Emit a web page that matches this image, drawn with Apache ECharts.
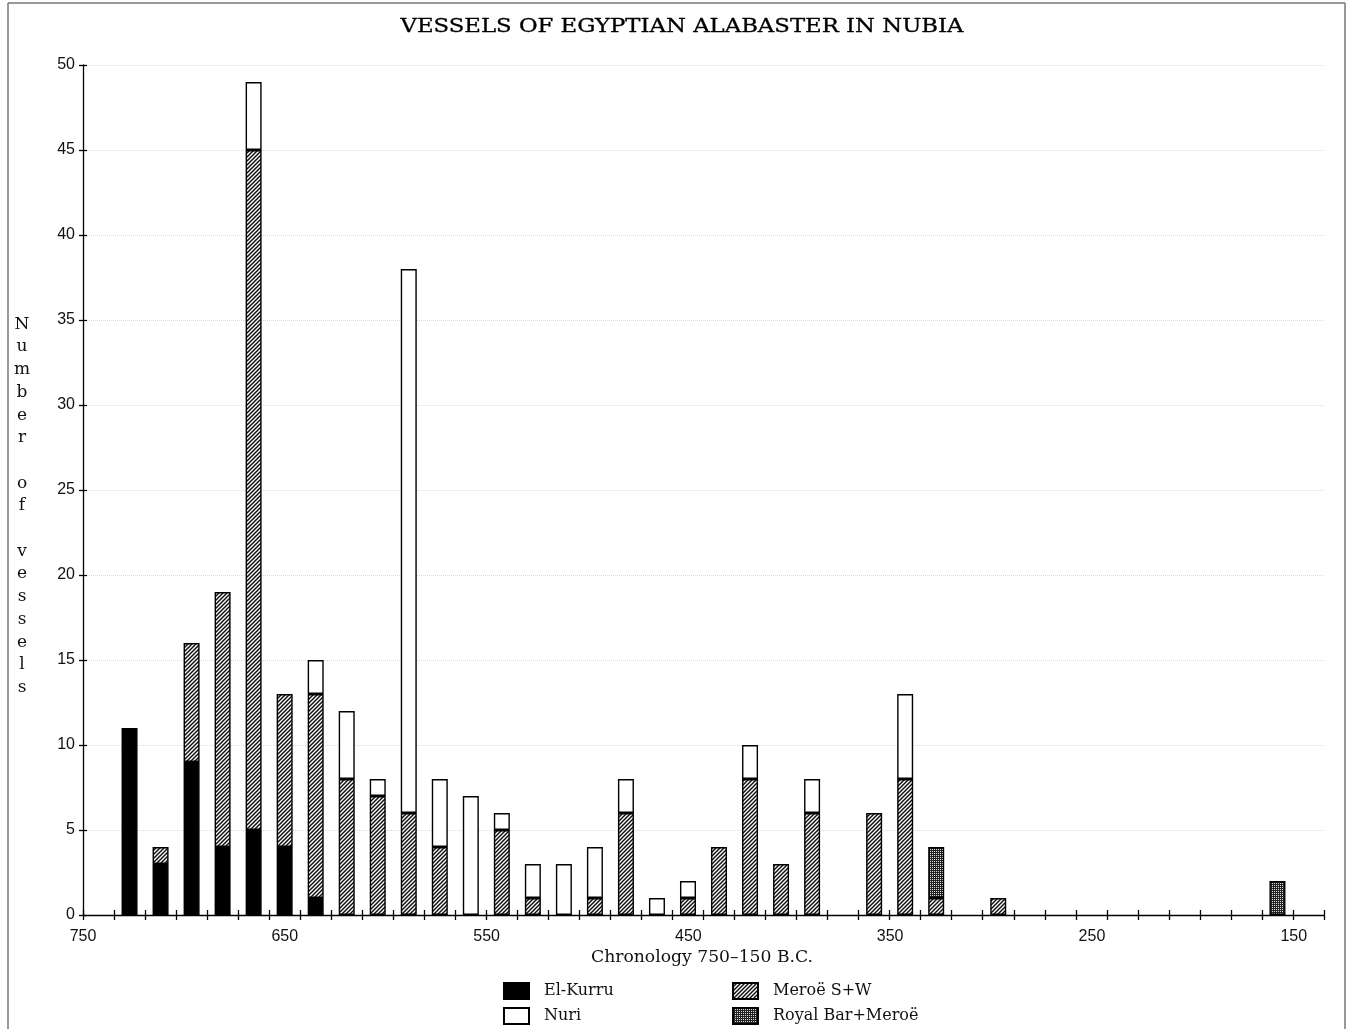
<!DOCTYPE html>
<html><head><meta charset="utf-8">
<script src="https://cdn.jsdelivr.net/npm/echarts@6/dist/echarts.min.js"></script>
<style>html,body{margin:0;padding:0;background:#fff}#c{width:1351px;height:1029px}</style>
</head><body><div id="c"></div>
<script>
// 15-year bins, labelled by their starting year (B.C.)
const binStarts = [750,735,720,705,690,675,660,645,630,615,600,585,570,555,540,525,510,495,480,465,
                   450,435,420,405,390,375,360,345,330,315,300,285,270,255,240,225,210,195,180,165];
const xTickLabels = ['750','650','550','450','350','250','150'];
const elKurru  = [0,11,3,9,4,5,4,1,0,0,0,0,0,0,0,0,0,0,0,0, 0,0,0,0,0,0,0,0,0,0,0,0,0,0,0,0,0,0,0,0];
const meroeSW  = [0,0,1,7,15,40,9,12,8,7,6,4,0,5,1,0,1,6,0,1, 4,8,3,6,0,6,8,1,0,1,0,0,0,0,0,0,0,0,0,0];
const royalBar = [0,0,0,0,0,0,0,0,0,0,0,0,0,0,0,0,0,0,0,0, 0,0,0,0,0,0,0,3,0,0,0,0,0,0,0,0,0,0,2,0];
const nuri     = [0,0,0,0,0,4,0,2,4,1,32,4,7,1,2,3,3,2,1,1, 0,2,0,2,0,0,5,0,0,0,0,0,0,0,0,0,0,0,0,0];

const titleText = 'VESSELS OF EGYPTIAN ALABASTER IN NUBIA';
const xName = 'Chronology 750\u2013150 B.C.';
const yName = 'Number of vessels';

function hatch() {
  const s = 4;
  const c = document.createElement('canvas'); c.width = s; c.height = s;
  const g = c.getContext('2d');
  g.fillStyle = '#fff'; g.fillRect(0, 0, s, s);
  g.strokeStyle = '#111'; g.lineWidth = 1.5;
  g.beginPath();
  g.moveTo(-1, s + 1); g.lineTo(s + 1, -1);
  g.moveTo(-1, 1); g.lineTo(1, -1);
  g.moveTo(s - 1, s + 1); g.lineTo(s + 1, s - 1);
  g.stroke();
  return c;
}
function dots() {
  const c = document.createElement('canvas'); c.width = 2; c.height = 2;
  const g = c.getContext('2d');
  g.fillStyle = '#222'; g.fillRect(0, 0, 2, 2);
  g.fillStyle = '#ddd'; g.fillRect(0, 1, 1, 1);
  return c;
}
function measure(text, font) {
  const c = document.createElement('canvas').getContext('2d');
  c.font = font; return c.measureText(text).width;
}

const serif = 'DejaVu Serif';
const titleFont = '18px "DejaVu Serif"';
const xNameFont = '17px "DejaVu Serif"';
const titleScale = 563 / measure(titleText, titleFont);
const xNameScale = 222 / measure(xName, xNameFont);

const mk = (name, data, color) => ({
  name, type: 'bar', stack: 'total', barWidth: 16,
  xAxisIndex: 0, yAxisIndex: 0,
  data: data.map(v => v === 0 ? '-' : v),
  itemStyle: { color, borderColor: '#000', borderWidth: 1.4 },
  emphasis: { disabled: true }
});

const chart = echarts.init(document.getElementById('c'), null, { renderer: 'canvas' });
const axisLineStyle = { color: '#000', width: 1.3 };
chart.setOption({
  animation: false,
  backgroundColor: '#fff',
  grid: { left: 83, right: 27, top: 65, bottom: 114, containLabel: false },
  xAxis: [
    { type: 'category', data: binStarts, position: 'bottom', boundaryGap: true,
      axisLine: { show: true, lineStyle: axisLineStyle },
      axisTick: { show: true, interval: 0, length: 5, lineStyle: axisLineStyle },
      axisLabel: { show: false }, splitLine: { show: false } },
    { type: 'category', data: binStarts, position: 'bottom', boundaryGap: true,
      axisLine: { show: false },
      axisTick: { show: true, inside: true, interval: 0, length: 5, lineStyle: axisLineStyle },
      axisLabel: { show: false }, splitLine: { show: false } },
    { type: 'value', min: 0, max: 615, interval: 100, position: 'bottom',
      axisLine: { show: false }, axisTick: { show: false }, splitLine: { show: false },
      axisLabel: { show: true, margin: 14, fontFamily: 'Liberation Sans', fontSize: 16, color: '#111',
        showMaxLabel: false,
        formatter: v => (v % 100 === 0 ? xTickLabels[v / 100] : '') } }
  ],
  yAxis: [
    { type: 'value', min: 0, max: 50, interval: 5, position: 'left',
      axisLine: { show: true, lineStyle: axisLineStyle },
      axisTick: { show: true, length: 4, lineStyle: axisLineStyle },
      axisLabel: { margin: 8, fontFamily: 'Liberation Sans', fontSize: 16, color: '#111' },
      splitLine: { show: true, lineStyle: { type: 'dotted', color: '#d9d9d9', width: 1 } } },
    { type: 'value', min: 0, max: 50, interval: 5, position: 'left',
      axisLine: { show: false },
      axisTick: { show: true, inside: true, length: 4, lineStyle: axisLineStyle },
      axisLabel: { show: false }, splitLine: { show: false } }
  ],
  legend: [
    { data: ['El-Kurru', 'Nuri'], orient: 'vertical', left: 503, top: 982, padding: 0,
      icon: 'rect', itemWidth: 25, itemHeight: 16, itemGap: 7, selectedMode: false,
      textStyle: { fontFamily: serif, fontSize: 16, color: '#111', padding: [0, 0, 0, 10] } },
    { data: ['Meroë S+W', 'Royal Bar+Meroë'], orient: 'vertical', left: 732, top: 982, padding: 0,
      icon: 'rect', itemWidth: 25, itemHeight: 16, itemGap: 7, selectedMode: false,
      textStyle: { fontFamily: serif, fontSize: 16, color: '#111', padding: [0, 0, 0, 10] } }
  ],
  series: [
    mk('El-Kurru', elKurru, '#000'),
    mk('Meroë S+W', meroeSW, { image: hatch(), repeat: 'repeat' }),
    mk('Royal Bar+Meroë', royalBar, { image: dots(), repeat: 'repeat' }),
    mk('Nuri', nuri, '#fff')
  ],
  graphic: [
    { type: 'text', x: 682, y: 27, scaleX: titleScale, silent: true,
      style: { text: titleText, font: titleFont, fill: '#000', stroke: '#000', lineWidth: 0.3,
               align: 'center', verticalAlign: 'middle' } },
    { type: 'text', x: 702, y: 958, scaleX: xNameScale, silent: true,
      style: { text: xName, font: xNameFont, fill: '#111', align: 'center', verticalAlign: 'middle' } },
    { type: 'text', x: 22, y: 313, silent: true,
      style: { text: yName.split('').join('\n'), font: '17px "DejaVu Serif"', lineHeight: 22.7,
               fill: '#111', align: 'center', verticalAlign: 'top' } },
    { type: 'line', silent: true, shape: { x1: 8, y1: 3, x2: 8, y2: 1029 }, style: { stroke: '#777', lineWidth: 1.5 } },
    { type: 'line', silent: true, shape: { x1: 1345, y1: 3, x2: 1345, y2: 1029 }, style: { stroke: '#777', lineWidth: 1.5 } },
    { type: 'line', silent: true, shape: { x1: 8, y1: 3, x2: 1345, y2: 3 }, style: { stroke: '#777', lineWidth: 1.5 } }
  ]
});
</script></body></html>
